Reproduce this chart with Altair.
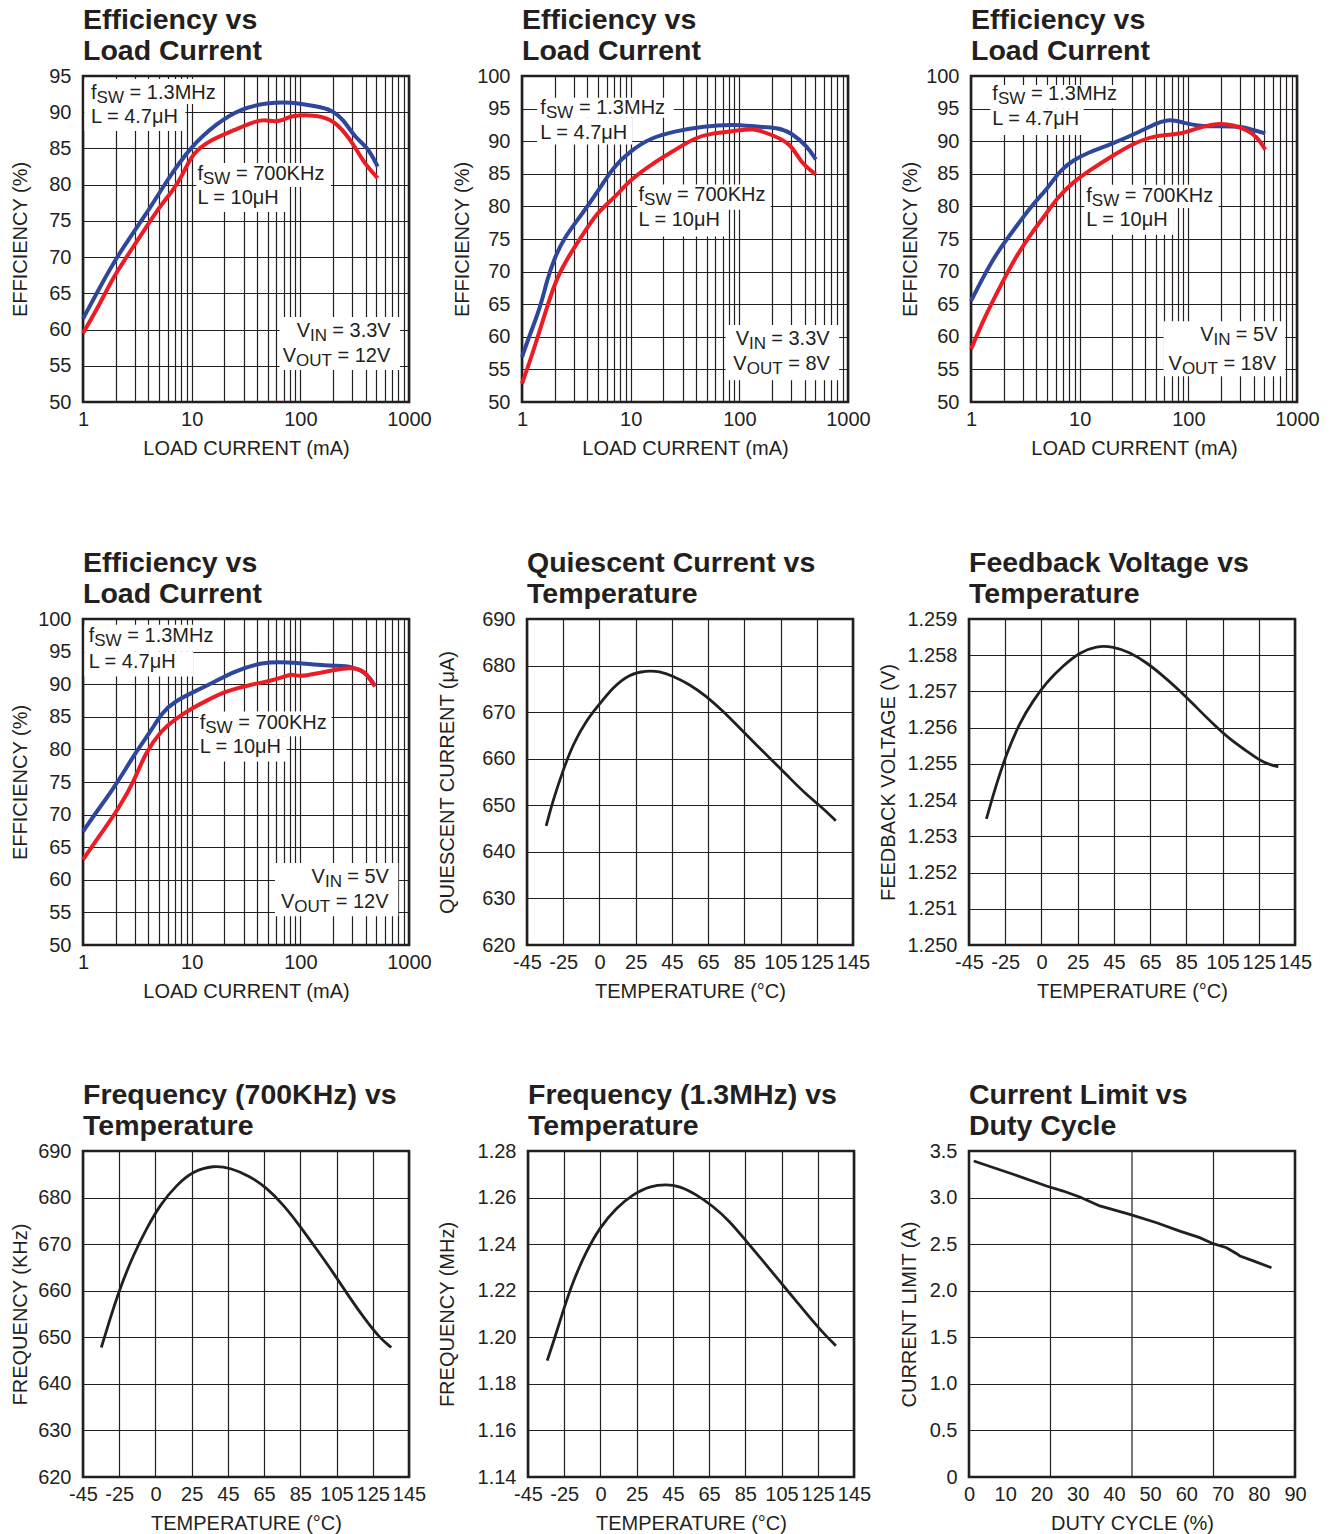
import altair as alt
import pandas as pd

FONT = "Liberation Sans"
INK = "#231f20"
BLUE = "#2e479d"
RED = "#ec1c24"
W = 326
H = 326

# ---------------- data ----------------
# Efficiency panel 1 (VIN 3.3V, VOUT 12V)
p1_blue_x = [1, 1.44, 2.05, 3.87, 5.93, 9.7, 17.1, 28.2, 49.7, 81.5, 143.9, 190.7, 253.6, 313, 416, 515]
p1_blue_y = [61.5, 65.9, 70.1, 76.05, 80.6, 85.2, 88.5, 90.5, 91.3, 91.45, 90.76, 90.4, 88.9, 86.6, 85.2, 82.5]
p1_red_x = [1, 1.44, 1.9, 2.91, 4.79, 6.82, 8.44, 10.1, 14.9, 24.4, 40.2, 49.7, 57.2, 70.8, 81.5, 144, 205, 292, 388, 515]
p1_red_y = [59.5, 63.6, 67.3, 71.4, 76.5, 79.3, 81.6, 84.3, 86.2, 87.5, 88.9, 88.9, 88.7, 88.9, 89.6, 89.6, 88.9, 86.2, 82.9, 80.9]

# Efficiency panel 2 (VIN 3.3V, VOUT 8V)
p2_blue_x = [1, 1.19, 1.48, 1.7, 1.96, 2.42, 3.45, 4.91, 7.0, 9.96, 15.2, 24.9, 47.2, 89.1, 146, 224, 297, 423, 505]
p2_blue_y = [56.9, 60.5, 64.6, 68.7, 71.8, 75.1, 78.5, 82.1, 86.2, 88.5, 90.5, 91.5, 92.3, 92.6, 92.2, 92.1, 91.4, 89.2, 87.2]
p2_red_x = [1, 1.28, 1.7, 2.1, 2.79, 3.7, 4.91, 6.5, 7.5, 9.96, 16.3, 24.9, 38.2, 58.3, 89, 136, 208, 297, 367, 505]
p2_red_y = [52.8, 57.9, 64.6, 69.2, 72.8, 75.9, 79.0, 80.8, 81.8, 84.1, 86.7, 88.5, 90.5, 91.3, 91.5, 92.1, 90.8, 89.7, 86.7, 84.9]

# Efficiency panel 3 (VIN 5V, VOUT 18V)
p3_blue_x = [1, 1.31, 1.73, 2.47, 3.77, 5.0, 6.64, 8.8, 11.7, 20.6, 36.2, 51.5, 68.3, 90.6, 129, 184, 301, 399, 511]
p3_blue_y = [65.5, 69.3, 72.9, 76.4, 80.5, 82.6, 85.6, 87.1, 88.2, 89.7, 91.5, 92.8, 93.4, 92.8, 92.3, 92.3, 92.3, 91.7, 91.2]
p3_red_x = [1, 1.31, 1.73, 2.47, 3.77, 5.0, 6.19, 8.8, 12.5, 20.6, 31.4, 51.5, 84.4, 120, 184, 261, 347, 428, 511]
p3_red_y = [58.1, 62.7, 66.7, 71.8, 76.4, 79.0, 81.3, 83.8, 85.6, 87.9, 89.7, 91.0, 91.0, 92.0, 92.8, 92.5, 91.7, 90.7, 88.7]

# Efficiency panel 4 (VIN 5V, VOUT 12V)
p4_blue_x = [1, 1.38, 1.97, 3.01, 4.29, 5.3, 7.0, 10.7, 16.4, 25.0, 44, 77.6, 136, 208, 297, 423, 486]
p4_blue_y = [67.4, 70.8, 74.3, 79.4, 83.0, 85.6, 87.4, 88.9, 90.4, 92.0, 93.4, 93.4, 93.0, 92.8, 92.8, 91.5, 89.7]
p4_red_x = [1, 1.48, 2.11, 3.01, 3.72, 5.3, 7.0, 10, 14.2, 20.3, 38.3, 50.8, 72.3, 83.2, 95.9, 146.5, 208, 297, 394, 423, 486]
p4_red_y = [63.1, 67.2, 70.8, 75.4, 79.4, 83.0, 84.6, 86.3, 87.6, 88.9, 90.1, 90.4, 91.2, 91.6, 91.1, 91.7, 92.2, 92.6, 92.0, 91.0, 89.7]

# Quiescent current vs temperature
q_temp = [-34.4, -30.7, -25.2, -18.3, -9.1, 0, 9.2, 20.7, 30.8, 38.1, 45.4, 54.6, 63.8, 73, 82.2, 91.3, 100.5, 109.7, 118.9, 128, 135.5]
q_ua = [645.6, 651.0, 657.4, 663.1, 668.2, 671.7, 675.3, 678.2, 678.9, 678.8, 677.8, 676.0, 673.5, 670.3, 666.7, 663.1, 659.6, 656.0, 652.4, 649.5, 646.7]

# Feedback voltage vs temperature
fb_temp = [-35.4, -29.9, -24.2, -15, -5.8, 3.4, 14.9, 26.1, 35.4, 44.6, 53.8, 63, 72.2, 81.4, 90.6, 99.8, 109, 118.2, 125.6, 131.2, 135.8]
fb_v = [1.25348, 1.25444, 1.25527, 1.256145, 1.25674, 1.25725, 1.25771, 1.25808, 1.25826, 1.25824, 1.25808, 1.2578, 1.25743, 1.25702, 1.25656, 1.2561, 1.25568, 1.25536, 1.25509, 1.25498, 1.25492]

# Frequency (700KHz) vs temperature
f7_temp = [-34.9, -29.9, -24.3, -15.1, -5.9, 3.3, 14.8, 26, 37, 46.2, 57.2, 66.4, 75.6, 84.8, 94, 103.2, 112.2, 121.4, 128.8, 135.2]
f7_khz = [647.8, 654.2, 660.7, 667.8, 673.5, 678.5, 682.8, 685.7, 686.9, 686.4, 684.6, 682.1, 678.5, 673.9, 668.9, 663.9, 658.5, 653.5, 649.9, 647.8]

# Frequency (1.3MHz) vs temperature
f13_temp = [-34.4, -30.1, -25.6, -18.8, -9.6, -0.5, 11, 22.5, 32.2, 41.4, 48.6, 57.8, 67, 76.2, 85.4, 94.6, 103.7, 112.9, 122, 129.4, 135]
f13_mhz = [1.19, 1.2, 1.2114, 1.2243, 1.2371, 1.2471, 1.2557, 1.2614, 1.265, 1.2657, 1.265, 1.2614, 1.2564, 1.25, 1.2414, 1.2329, 1.2243, 1.2157, 1.2071, 1.2007, 1.1964]

# Current limit vs duty cycle
duty = [1.3, 12.2, 21.4, 26, 30.6, 36.1, 44.4, 51.8, 58.2, 63.7, 67.4, 71.1, 73.8, 74.8, 78.5, 83.5]
ilim = [3.393, 3.25, 3.124, 3.07, 3.006, 2.91, 2.82, 2.73, 2.64, 2.57, 2.505, 2.462, 2.4, 2.373, 2.32, 2.247]

# tick / grid values
LOG_GRID = [m * 10 ** e for e in range(3) for m in range(1, 10)] + [1000]
TEMP_TICKS = [-45, -25, 0, 25, 45, 65, 85, 105, 125, 145]
DUTY_TICKS = list(range(0, 91, 10))
DUTY_GRID = [22.5, 45, 67.5]

# annotation anchors (data coordinates, text baseline) and white boxes behind them
p1_notes = {"fsw13": (1.185, 91.83), "l47": (1.185, 88.51), "fsw700": (11.29, 80.64),
            "l10": (11.29, 77.33), "vin": (92.6, 59.01), "vout": (68.8, 55.56)}
p1_boxes = [(1.03, 19.6, 94.59, 91.13), (1.03, 8.75, 91.13, 87.41), (11.05, 190.9, 82.99, 79.68),
            (11.05, 76.5, 79.68, 76.23), (64.5, 827, 61.73, 54.41)]
p2_notes = {"fsw13": (1.475, 94.11), "l47": (1.475, 90.37), "fsw700": (11.8, 80.77),
            "l10": (11.8, 76.92), "vin": (92.5, 58.72), "vout": (88.1, 54.88)}
p2_boxes = [(1.375, 24.97, 96.68, 93.6), (1.375, 10.32, 93.6, 89.5), (11.48, 194.3, 83.34, 79.5),
            (11.48, 77.5, 79.5, 75.4), (74.8, 828, 61.8, 53.34)]
p3_notes = {"fsw13": (1.57, 96.32), "l47": (1.57, 92.5), "fsw700": (11.5, 80.75),
            "l10": (11.5, 76.92), "vin": (128.7, 59.31), "vout": (65.8, 54.98)}
p3_boxes = [(1.505, 26.3, 98.62, 95.05), (1.505, 10.86, 95.05, 90.96), (11.02, 189.6, 83.31, 79.74),
            (11.02, 73.1, 79.74, 75.65), (59.1, 778.9, 62.37, 53.95)]
p4_notes = {"fsw13": (1.128, 96.41), "l47": (1.128, 92.48), "fsw700": (11.85, 83.13),
            "l10": (11.85, 79.45), "vin": (127, 59.51), "vout": (66.3, 55.67)}
p4_boxes = [(1.03, 18.9, 99.13, 95.03), (1.03, 10.37, 95.03, 91.2), (11.52, 194, 85.83, 82.0),
            (11.52, 74.8, 82.0, 78.16), (58.4, 797, 62.58, 54.4)]

# ---------------- helpers ----------------
YAX = dict(grid=True, ticks=False, domain=False, labelPadding=12, labelFlush=False, labelOverlap=False,
           titleY=H / 2, titleAngle=270, titleAlign="center", titleBaseline="middle")
XAX = dict(ticks=False, domain=False, labelPadding=7, labelFlush=False, labelOverlap=False, titlePadding=9)


def title_params(lines):
    return alt.TitleParams(text=lines, anchor="start", frame="group")


def note_layers(notes, vin, vout, xs, ys):
    groups = [
        # (dx, size, dy, [(key, text), ...])
        (0, 20, 0, [("fsw13", "f"), ("fsw700", "f"), ("l47", "L = 4.7μH"), ("l10", "L = 10μH"),
                    ("vin", "V"), ("vout", "V")]),
        (5.6, 17, 4, [("fsw13", "SW"), ("fsw700", "SW")]),
        (38.6, 20, 0, [("fsw13", "= 1.3MHz"), ("fsw700", "= 700KHz")]),
        (13.3, 17, 4, [("vin", "IN"), ("vout", "OUT")]),
        (35.6, 20, 0, [("vin", "= " + vin)]),
        (54.8, 20, 0, [("vout", "= " + vout)]),
    ]
    layers = []
    for dx, size, dy, items in groups:
        df = pd.DataFrame({"x": [notes[k][0] for k, _ in items],
                           "y": [notes[k][1] for k, _ in items],
                           "t": [t for _, t in items]})
        layers.append(alt.Chart(df).mark_text(align="left", baseline="alphabetic", dx=dx, dy=dy,
                                              fontSize=size, font=FONT, color=INK)
                      .encode(x=xs, y=ys, text="t:N"))
    return layers


def eff_panel(ymax, bx, by, rx, ry, notes, boxes, vin, vout, title_x):
    xs = alt.X("x:Q", scale=alt.Scale(type="log", domain=[1, 1000], nice=False),
               axis=alt.Axis(title="LOAD CURRENT (mA)", values=LOG_GRID, grid=True,
                             labelExpr="indexof([1, 10, 100, 1000], datum.value) >= 0 ? format(datum.value, 'd') : ''",
                             **XAX))
    ys = alt.Y("y:Q", scale=alt.Scale(domain=[50, ymax], nice=False, zero=False),
               axis=alt.Axis(title="EFFICIENCY (%)", values=list(range(50, ymax + 1, 5)), titleX=title_x, **YAX))
    bdf = pd.DataFrame(boxes, columns=["x", "x2", "y", "y2"])
    box = alt.Chart(bdf).mark_rect(color="white").encode(x=xs, x2="x2:Q", y=ys, y2="y2:Q")
    df = pd.DataFrame({"x": bx + rx, "y": by + ry,
                       "s": ["1.3MHz"] * len(bx) + ["700KHz"] * len(rx)})
    lines = alt.Chart(df).mark_line(strokeWidth=4, interpolate="basis").encode(
        x=xs, y=ys,
        color=alt.Color("s:N", scale=alt.Scale(domain=["1.3MHz", "700KHz"], range=[BLUE, RED]), legend=None))
    return alt.layer(box, lines, *note_layers(notes, vin, vout, xs, ys)).properties(
        width=W, height=H, title=title_params(["Efficiency vs", "Load Current"]))


def temp_panel(tx, vy, ydom, ystep, yfmt, ytitle, title, title_x):
    xs = alt.X("x:Q", scale=alt.Scale(domain=TEMP_TICKS, range=[i * W / 9 for i in range(10)], nice=False, zero=False),
               axis=alt.Axis(title="TEMPERATURE (°C)", values=TEMP_TICKS, grid=True,
                             labelExpr="datum.value < 0 ? '-' + abs(datum.value) : '' + datum.value", **XAX))
    n = int(round((ydom[1] - ydom[0]) / ystep))
    yvals = [round(ydom[0] + i * ystep, 6) for i in range(n + 1)]
    ys = alt.Y("y:Q", scale=alt.Scale(domain=ydom, nice=False, zero=False),
               axis=alt.Axis(title=ytitle, values=yvals, format=yfmt, titleX=title_x, **YAX))
    df = pd.DataFrame({"x": tx, "y": vy})
    return alt.Chart(df).mark_line(strokeWidth=2.8, color=INK, interpolate="basis").encode(
        x=xs, y=ys).properties(width=W, height=H, title=title_params(title))


def duty_panel(title_x):
    xs = alt.X("x:Q", scale=alt.Scale(domain=[0, 90], nice=False),
               axis=alt.Axis(title="DUTY CYCLE (%)", values=DUTY_TICKS, grid=False, **XAX))
    ys = alt.Y("y:Q", scale=alt.Scale(domain=[0, 3.5], nice=False),
               axis=alt.Axis(title="CURRENT LIMIT (A)", values=[i * 0.5 for i in range(8)],
                             labelExpr="datum.value == 0 ? '0' : format(datum.value, '.1f')",
                             titleX=title_x, **YAX))
    grid = alt.Chart(pd.DataFrame({"x": DUTY_GRID})).mark_rule(color=INK, strokeWidth=1.2).encode(x=xs)
    line = alt.Chart(pd.DataFrame({"x": duty, "y": ilim})).mark_line(
        strokeWidth=2.8, color=INK).encode(x=xs, y=ys)
    return alt.layer(grid, line).properties(width=W, height=H,
                                            title=title_params(["Current Limit vs", "Duty Cycle"]))


# ---------------- panels ----------------
c1 = eff_panel(95, p1_blue_x, p1_blue_y, p1_red_x, p1_red_y, p1_notes, p1_boxes, "3.3V", "12V", -63)
c2 = eff_panel(100, p2_blue_x, p2_blue_y, p2_red_x, p2_red_y, p2_notes, p2_boxes, "3.3V", "8V", -60)
c3 = eff_panel(100, p3_blue_x, p3_blue_y, p3_red_x, p3_red_y, p3_notes, p3_boxes, "5V", "18V", -61)
c4 = eff_panel(100, p4_blue_x, p4_blue_y, p4_red_x, p4_red_y, p4_notes, p4_boxes, "5V", "12V", -63)
c5 = temp_panel(q_temp, q_ua, [620, 690], 10, "d", "QUIESCENT CURRENT (μA)",
                ["Quiescent Current vs", "Temperature"], -80)
c6 = temp_panel(fb_temp, fb_v, [1.250, 1.259], 0.001, ".3f", "FEEDBACK VOLTAGE (V)",
                ["Feedback Voltage vs", "Temperature"], -81)
c7 = temp_panel(f7_temp, f7_khz, [620, 690], 10, "d", "FREQUENCY (KHz)",
                ["Frequency (700KHz) vs", "Temperature"], -63)
c8 = temp_panel(f13_temp, f13_mhz, [1.14, 1.28], 0.02, ".2f", "FREQUENCY (MHz)",
                ["Frequency (1.3MHz) vs", "Temperature"], -81)
c9 = duty_panel(-60)

row1 = alt.hconcat(alt.hconcat(c1, c2, spacing=17), c3, spacing=26)
row2 = alt.hconcat(alt.hconcat(c4, c5, spacing=2), c6, spacing=5)
row3 = alt.hconcat(alt.hconcat(c7, c8, spacing=8), c9, spacing=25)

chart = alt.vconcat(row1, alt.vconcat(row2, row3, spacing=76), spacing=87).properties(
    padding={"left": 0, "top": -4, "right": 0, "bottom": 0}, background="white"
).configure_view(
    stroke=INK, strokeWidth=2.6
).configure_axis(
    labelFont=FONT, titleFont=FONT, labelFontSize=20, titleFontSize=20,
    labelColor=INK, titleColor=INK, titleFontWeight="normal",
    gridColor=INK, gridOpacity=1, gridWidth=1.2
).configure_title(
    font=FONT, fontSize=28.5, fontWeight="bold", color=INK, anchor="start",
    frame="group", lineHeight=31, offset=1
)

chart.save("out.html", embed_options={"renderer": "svg", "actions": False})
